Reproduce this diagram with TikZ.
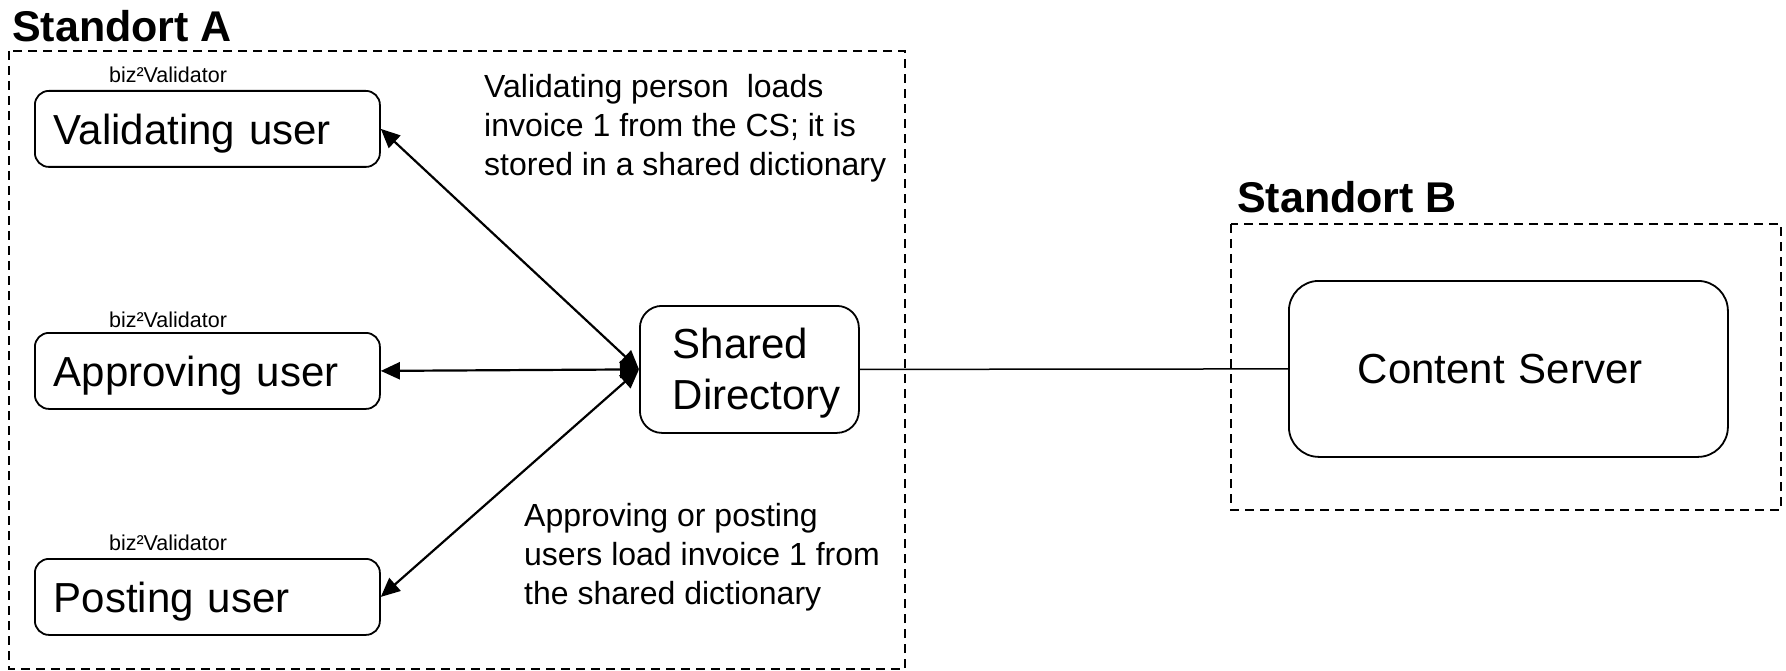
\documentclass[tikz,border=0pt]{standalone}
\usepackage{fontspec}
\setmainfont{Liberation Sans}
\usetikzlibrary{arrows.meta}
\begin{document}
\begin{tikzpicture}[x=1pt,y=-1pt,
  dashbox/.style={draw, line width=1.5pt, dash pattern=on 9pt off 6pt},
  title/.style={font=\fontsize{43}{50}\selectfont\bfseries, anchor=base west, inner sep=0pt},
  userbox/.style={draw, line width=1.8pt, rounded corners=14pt, anchor=north west,
    minimum width=345pt, minimum height=76pt, text width=307pt, inner xsep=19pt, inner ysep=0pt,
    align=left, text depth=0pt, font=\fontsize{42}{48}\selectfont},
  biz/.style={font=\fontsize{21.5}{25}\selectfont, anchor=base, inner sep=0pt},
  note/.style={font=\fontsize{32}{39}\selectfont, anchor=north west, inner sep=0pt, align=left},
  biarrow/.style={line width=2.2pt, {Triangle[length=19pt,width=17pt]}-{Triangle[length=19pt,width=17pt]}},
  link/.style={line width=1.5pt}
]
\useasboundingbox (0,0) rectangle (1786,671);

% Standort A
\node[title] (ta) at (12,42) {Standort A};
\draw[dashbox] (9,51) rectangle (905,669);

% Standort B
\node[title] (tb) at (1237,213) {Standort B};
\draw[dashbox] (1231,224) rectangle (1781,510);

% user boxes
\node[biz] (b1) at (168,83) {biz²Validator};
\node[userbox] (vu) at (34,90) {Validating user};
\node[biz] (b2) at (168,327) {biz²Validator};
\node[userbox] (au) at (34,332) {Approving user};
\node[biz] (b3) at (168,550) {biz²Validator};
\node[userbox] (pu) at (34,558) {Posting user};

% shared directory
\node[draw, line width=1.8pt, rounded corners=22pt, anchor=north west,
  minimum width=219pt, minimum height=127pt, text width=153pt, inner xsep=33pt, inner ysep=0pt,
  align=left, text depth=52pt, font=\fontsize{42}{51}\selectfont] (sd) at (639,305) {Shared\\Directory};

% content server
\node[draw, line width=1.8pt, rounded corners=30pt, anchor=north west,
  minimum width=439pt, minimum height=176pt, text width=301pt, inner xsep=69pt, inner ysep=0pt,
  align=left, text depth=0pt, font=\fontsize{42}{48}\selectfont] (cs) at (1288,280) {Content Server};

% connectors
\draw[biarrow] (sd.west) -- (vu.east);
\draw[biarrow] (sd.west) -- (au.east);
\draw[biarrow] (sd.west) -- (pu.east);
\draw[link] (sd.east) -- (cs.west);

% notes
\node[note] (n1) at (484,74) {Validating person~ loads\\invoice 1 from the CS; it is\\stored in a shared dictionary};
\node[note] (n2) at (524,503) {Approving or posting\\users load invoice 1 from\\the shared dictionary};
\end{tikzpicture}
\end{document}
